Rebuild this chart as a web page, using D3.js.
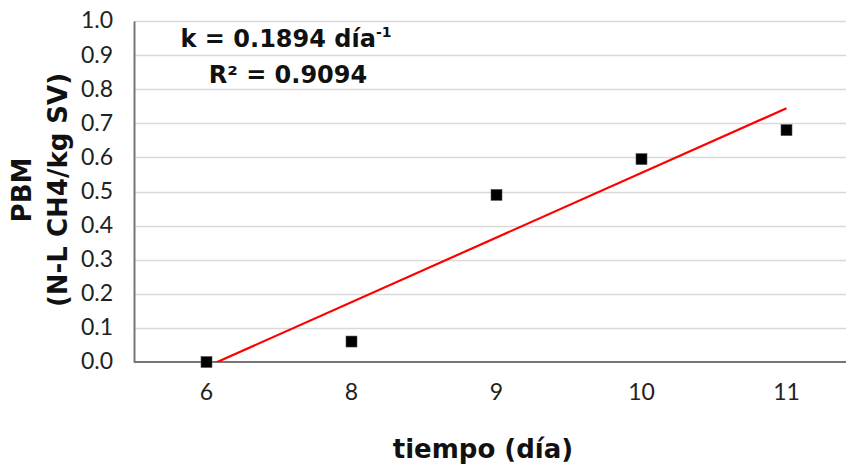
<!DOCTYPE html>
<html>
<head>
<meta charset="utf-8">
<script src="https://cdn.jsdelivr.net/npm/d3@7"></script>
<style>
  body { margin: 0; background: #fff; }
  text { font-family: "Century Gothic", Lato, "DejaVu Sans", sans-serif; }
  .bold { font-family: "Century Gothic", "DejaVu Sans", sans-serif; font-weight: bold; }
</style>
</head>
<body>
<div id="chart"></div>
<script>
'use strict';

var days = ["6", "8", "9", "10", "11"];
var pbm = [0.0, 0.06, 0.49, 0.595, 0.68];
var yTicks = [0, 0.1, 0.2, 0.3, 0.4, 0.5, 0.6, 0.7, 0.8, 0.9, 1.0];
var fitLabels = ["k = 0.1894 día", "R² = 0.9094"];

var W = 846, H = 467,
    MARGIN = { TOP: 21, LEFT: 134, BOTTOM: 105 },
    PLOT_RIGHT = 859;

var svg = d3.select("#chart").append("svg")
    .attr("width", W)
    .attr("height", H);

var x = d3.scaleBand()
    .domain(days)
    .range([MARGIN.LEFT, PLOT_RIGHT])
    .padding(0);

var y = d3.scaleLinear()
    .domain([0, 1])
    .range([H - MARGIN.BOTTOM, MARGIN.TOP]);

var cx = function (d) { return x(d) + x.bandwidth() / 2; };

// gridlines
svg.append("g")
    .selectAll("line")
    .data(yTicks.slice(1))
    .join("line")
    .attr("x1", MARGIN.LEFT)
    .attr("x2", W)
    .attr("y1", function (d) { return Math.round(y(d)) + 0.5; })
    .attr("y2", function (d) { return Math.round(y(d)) + 0.5; })
    .attr("stroke", "#d9d9d9")
    .attr("stroke-width", 1.5);

// y axis
var yAxis = svg.append("g")
    .attr("transform", "translate(" + MARGIN.LEFT + ",0)")
    .call(d3.axisLeft(y).tickValues(yTicks).tickFormat(d3.format(".1f")).tickSize(0).tickPadding(21));
yAxis.select(".domain").attr("stroke", "#767676").attr("stroke-width", 2);
yAxis.selectAll("text").attr("font-size", 23).attr("fill", "#222").attr("dy", "0.3em");

// x axis
var xAxis = svg.append("g")
    .attr("transform", "translate(0," + y(0) + ")")
    .call(d3.axisBottom(x).tickSize(0));
xAxis.select(".domain").attr("stroke", "#767676").attr("stroke-width", 2)
    .attr("d", "M" + MARGIN.LEFT + ",0H" + W);
xAxis.selectAll("text").attr("font-size", 23).attr("fill", "#222").attr("y", 38).attr("dy", 0);

// linear trendline over category index (1..n), as the spreadsheet does
var idx = pbm.map(function (d, i) { return i + 1; });
var mx = d3.mean(idx), my = d3.mean(pbm);
var slope = d3.sum(idx, function (d, i) { return (d - mx) * (pbm[i] - my); }) /
    d3.sum(idx, function (d) { return (d - mx) * (d - mx); });
var icpt = my - slope * mx;
var idxToX = function (t) { return cx(days[0]) + (t - 1) * x.step(); };

svg.append("clipPath").attr("id", "plot-clip")
    .append("rect")
    .attr("x", MARGIN.LEFT).attr("y", MARGIN.TOP)
    .attr("width", W - MARGIN.LEFT).attr("height", y(0) - MARGIN.TOP);

svg.append("line")
    .attr("clip-path", "url(#plot-clip)")
    .attr("x1", idxToX(1)).attr("y1", y(icpt + slope * 1))
    .attr("x2", idxToX(days.length)).attr("y2", y(icpt + slope * days.length))
    .attr("stroke", "#ff0000")
    .attr("stroke-width", 2.2);

// markers
svg.append("g")
    .selectAll("rect")
    .data(pbm)
    .join("rect")
    .attr("x", function (d, i) { return cx(days[i]) - 5.5; })
    .attr("y", function (d) { return y(d) - 5.5; })
    .attr("width", 11)
    .attr("height", 11)
    .attr("fill", "#000")
    .attr("stroke", "#555")
    .attr("stroke-width", 0.6);

// fit annotation
var k = svg.append("text")
    .attr("class", "bold")
    .attr("x", 286).attr("y", 47)
    .attr("text-anchor", "middle")
    .attr("font-size", 24).attr("fill", "#111");
k.append("tspan").text(fitLabels[0]);
k.append("tspan").attr("font-size", 14).attr("dy", -10).text("-1");

svg.append("text")
    .attr("class", "bold")
    .attr("x", 288).attr("y", 83)
    .attr("text-anchor", "middle")
    .attr("font-size", 24).attr("fill", "#111")
    .text(fitLabels[1]);

// axis titles
var yt = svg.append("text")
    .attr("class", "bold")
    .attr("transform", "translate(0,190) rotate(-90)")
    .attr("text-anchor", "middle")
    .attr("font-size", 26).attr("fill", "#111");
yt.append("tspan").attr("x", 0).attr("y", 31).text("PBM");
yt.append("tspan").attr("x", 0).attr("y", 67).text("(N-L CH4/kg SV)");

svg.append("text")
    .attr("class", "bold")
    .attr("x", 483).attr("y", 458)
    .attr("text-anchor", "middle")
    .attr("font-size", 26).attr("fill", "#111")
    .text("tiempo (día)");
</script>
</body>
</html>
